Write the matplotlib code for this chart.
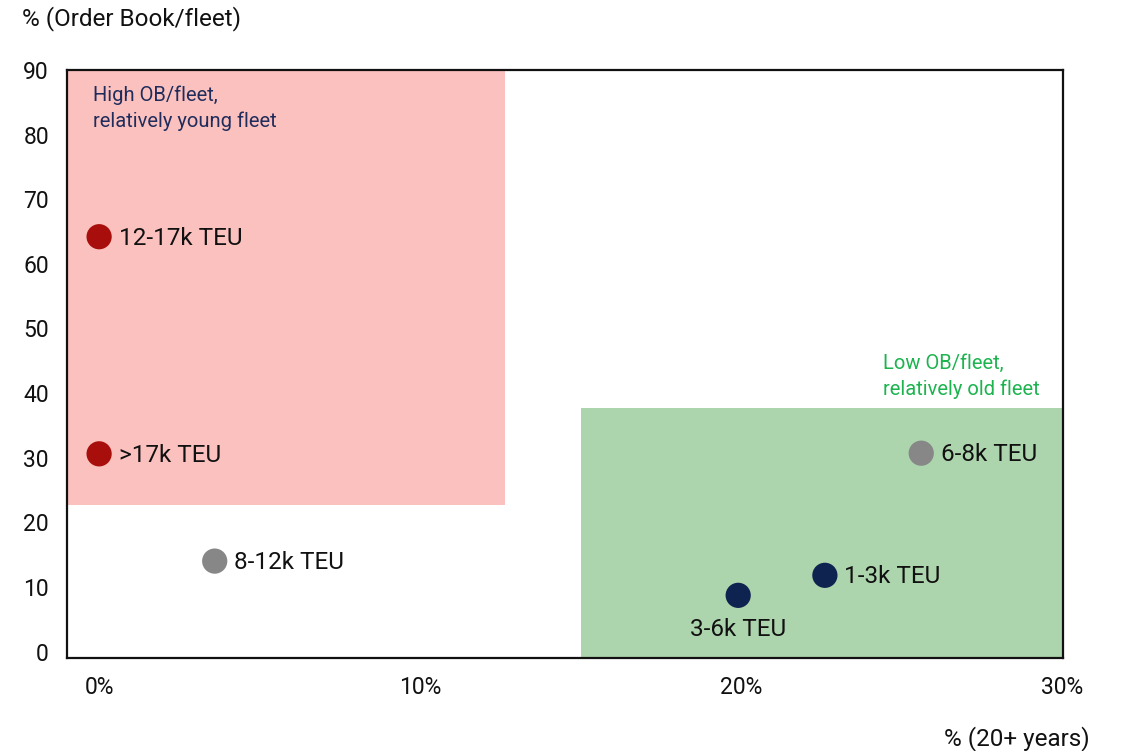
import matplotlib
matplotlib.use('Agg')
import matplotlib.pyplot as plt
from matplotlib.patches import Rectangle

plt.rcParams['font.family'] = ['Roboto', 'DejaVu Sans']

# data
labels = ['12-17k TEU', '>17k TEU', '8-12k TEU', '3-6k TEU', '1-3k TEU', '6-8k TEU']
old_share = [0.0, 0.0, 3.6, 19.9, 22.6, 25.6]      # % (20+ years)
ob_fleet = [64.2, 30.6, 14.0, 8.7, 11.8, 30.7]      # % (Order Book/fleet)
groups = ['red', 'red', 'grey', 'navy', 'navy', 'grey']
xticks = [0, 10, 20, 30]
yticks = [0, 10, 20, 30, 40, 50, 60, 70, 80, 90]

# zones: (x0, x1, y0, y1)
young_zone = (-1, 12.65, 22.7, 90)
old_zone = (15.0, 30, -1, 37.7)

colors = {'red': '#A80F0C', 'grey': '#878787', 'navy': '#0F2350'}

fig = plt.figure(figsize=(11.22, 7.51), dpi=100)
ax = fig.add_axes([0.0597, 0.1238, 0.8873, 0.783])
ax.set_xlim(-1, 30)
ax.set_ylim(-1, 90)

x0, x1, y0, y1 = young_zone
ax.add_patch(Rectangle((x0, y0), x1 - x0, y1 - y0, facecolor='#FBC1BE', edgecolor='none', zorder=0))
x0, x1, y0, y1 = old_zone
ax.add_patch(Rectangle((x0, y0), x1 - x0, y1 - y0, facecolor='#ADD5AD', edgecolor='none', zorder=0))

ax.text(-0.2, 87.6, 'High OB/fleet,\nrelatively young fleet', color='#1F2C5C', fontsize=14.5,
        va='top', ha='left', linespacing=1.4)
ax.text(24.4, 46.0, 'Low OB/fleet,\nrelatively old fleet', color='#1DB34F', fontsize=14.5,
        va='top', ha='left', linespacing=1.4)

for lab, xv, yv, g in zip(labels, old_share, ob_fleet, groups):
    ax.scatter(xv, yv, s=330, color=colors[g], edgecolors='none', zorder=3)
    if lab == '3-6k TEU':
        ax.annotate(lab, (xv, yv), xytext=(0, -16), textcoords='offset points',
                    ha='center', va='top', fontsize=17.5, color='#111111')
    else:
        ax.annotate(lab, (xv, yv), xytext=(14, -1), textcoords='offset points',
                    ha='left', va='center', fontsize=17.5, color='#111111')

ax.set_xticks(xticks)
ax.set_xticklabels([f'{t}%' for t in xticks])
ax.set_yticks(yticks)
ax.tick_params(length=0, labelsize=16.5, colors='#111111')
ax.tick_params(axis='y', pad=13)
ax.tick_params(axis='x', pad=13)
for sp in ax.spines.values():
    sp.set_linewidth(1.6)
    sp.set_color('#111111')

fig.text(0.0196, 0.975, '% (Order Book/fleet)', fontsize=17.5, ha='left', va='center', color='#111111')
fig.text(0.971, 0.017, '% (20+ years)', fontsize=17.5, ha='right', va='center', color='#111111')

fig.savefig('out.png', dpi=100)
